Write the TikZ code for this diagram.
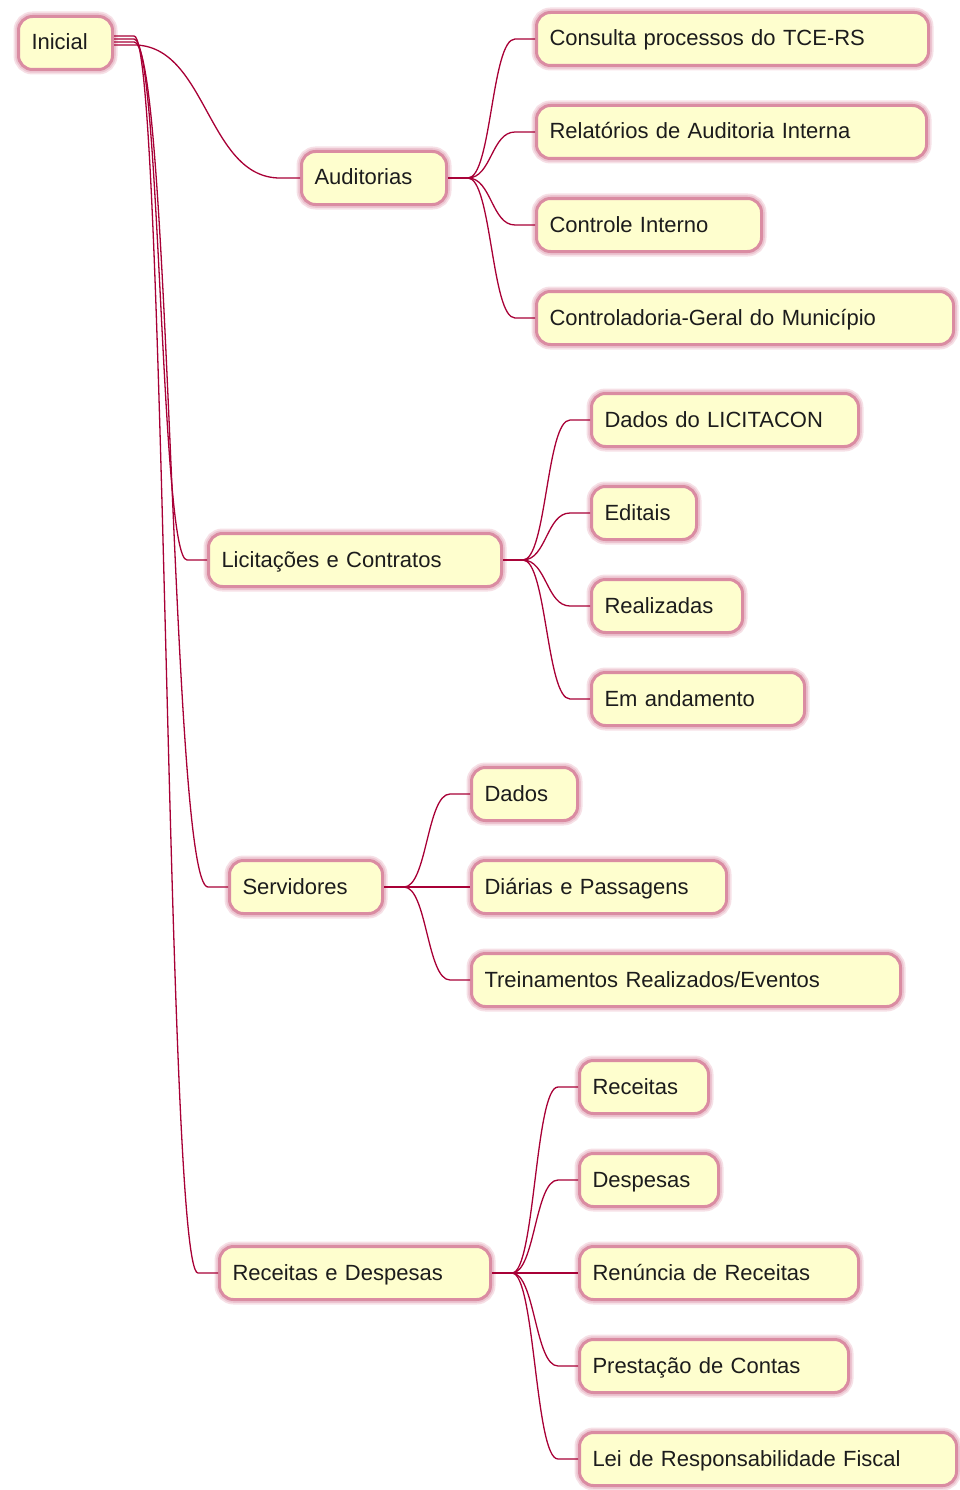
\documentclass[tikz,border=0pt]{standalone}
\usepackage{fontspec}
\setmainfont{Liberation Sans}
\usetikzlibrary{calc}
\definecolor{boxfill}{RGB}{254,254,206}
\definecolor{boxline}{RGB}{218,140,162}
\definecolor{boxglow}{RGB}{236,196,208}
\definecolor{boxglowb}{RGB}{246,224,230}
\definecolor{linkcol}{RGB}{168,0,54}
\definecolor{txt}{RGB}{28,28,28}
\tikzset{
  box/.style={rounded corners=14pt, fill=boxfill, draw=boxline, line width=3pt,
    preaction={draw=boxglowb, line width=10pt},
    preaction={draw=boxglow, line width=6.5pt},
    anchor=west, minimum height=53pt, inner xsep=13pt, inner ysep=0pt,
    text height=15pt, text depth=1pt, align=left, text=txt,
    font=\fontsize{22}{25}\selectfont},
  conn/.style={draw=linkcol, line width=1.3pt},
}
\newcommand\link[3][0pt]{%
  \draw[conn] let \p1=([yshift=#1]#2.east), \p2=(#3.west), \n1={(\x2-\x1-40pt)/2} in
    (\p1) -- ++(20pt,0) .. controls +(\n1,0) and +(-\n1,0) .. ($(\p2)+(-20pt,0)$) -- (\p2);}
\begin{document}
\begin{tikzpicture}[x=1pt,y=-1pt]
\useasboundingbox (0,0) rectangle (960,1490);
\node[box, text width=68pt]  (ini) at (17,43)   {Inicial};
\node[box, text width=119pt] (aud) at (300,178) {Auditorias};
\node[box, text width=366pt] (c1)  at (535,39)  {Consulta processos do TCE-RS};
\node[box, text width=364pt] (c2)  at (535,132) {Relatórios de Auditoria Interna};
\node[box, text width=199pt] (c3)  at (535,225) {Controle Interno};
\node[box, text width=391pt] (c4)  at (535,318) {Controladoria-Geral do Município};
\node[box, text width=267pt] (lic) at (207,560) {Licitações e Contratos};
\node[box, text width=241pt] (l1)  at (590,420) {Dados do LICITACON};
\node[box, text width=79pt]  (l2)  at (590,513) {Editais};
\node[box, text width=125pt] (l3)  at (590,606) {Realizadas};
\node[box, text width=187pt] (l4)  at (590,699) {Em andamento};
\node[box, text width=127pt] (srv) at (228,887) {Servidores};
\node[box, text width=80pt]  (s1)  at (470,794) {Dados};
\node[box, text width=229pt] (s2)  at (470,887) {Diárias e Passagens};
\node[box, text width=403pt] (s3)  at (470,980) {Treinamentos Realizados/Eventos};
\node[box, text width=245pt] (rd)  at (218,1273) {Receitas e Despesas};
\node[box, text width=103pt] (r1)  at (578,1087) {Receitas};
\node[box, text width=113pt] (r2)  at (578,1180) {Despesas};
\node[box, text width=253pt] (r3)  at (578,1273) {Renúncia de Receitas};
\node[box, text width=243pt] (r4)  at (578,1366) {Prestação de Contas};
\node[box, text width=351pt] (r5)  at (578,1459) {Lei de Responsabilidade Fiscal};
\link[-2pt]{ini}{aud}
\link[4pt]{ini}{lic}
\link[1pt]{ini}{srv}
\link[7pt]{ini}{rd}
\link{aud}{c1}\link{aud}{c2}\link{aud}{c3}\link{aud}{c4}
\link{lic}{l1}\link{lic}{l2}\link{lic}{l3}\link{lic}{l4}
\link{srv}{s1}\link{srv}{s2}\link{srv}{s3}
\link{rd}{r1}\link{rd}{r2}\link{rd}{r3}\link{rd}{r4}\link{rd}{r5}
\end{tikzpicture}
\end{document}
